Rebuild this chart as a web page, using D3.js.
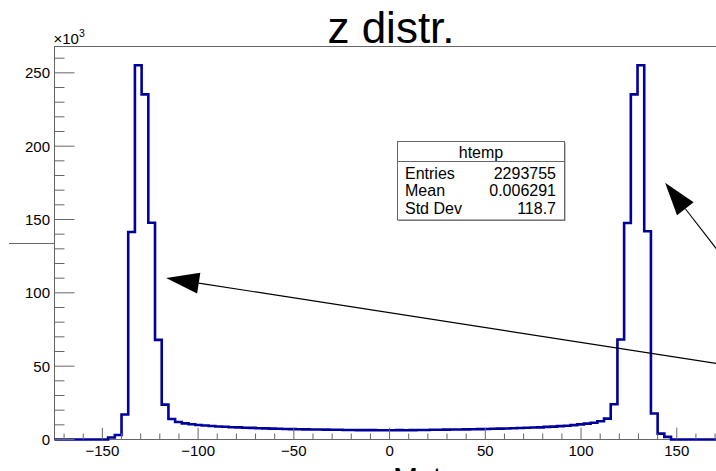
<!DOCTYPE html>
<html><head><meta charset="utf-8">
<script src="https://cdn.jsdelivr.net/npm/d3@7"></script>
<style>html,body{margin:0;padding:0;background:#fff;overflow:hidden;} svg{display:block;}</style>
</head><body>
<script>
// ---------- data ----------
const chartTitle = "z distr.";
const xAxisTitle = "Mvt";
const histName = "htemp";
const xMin = -175, xMax = 175, nBins = 100;
// bin contents in units of 10^3 entries (100 bins, width 3.5)
const counts = [
  0, 0, 0, 0, 0, 0, 0, 0, 1.4, 3.1,
  17.0, 141.5, 255.2, 235.3, 147.8, 67.9, 23.8, 14.0, 11.9, 11.0,
  10.4, 9.9, 9.5, 9.2, 8.9, 8.7, 8.4, 8.3, 8.0, 7.9,
  7.7, 7.6, 7.4, 7.3, 7.2, 7.1, 7.0, 6.9, 6.8, 6.8,
  6.7, 6.6, 6.6, 6.5, 6.5, 6.4, 6.4, 6.4, 6.3, 6.3,
  6.3, 6.4, 6.3, 6.4, 6.5, 6.5, 6.6, 6.6, 6.7, 6.8,
  6.8, 6.9, 7.0, 7.1, 7.2, 7.3, 7.4, 7.5, 7.7, 7.8,
  8.0, 8.2, 8.3, 8.6, 8.8, 9.1, 9.4, 9.8, 10.3, 10.8,
  11.4, 12.4, 14.2, 24.0, 68.2, 147.6, 235.3, 255.2, 142.0, 17.7,
  4.0, 1.8, 0, 0, 0, 0, 0, 0, 0, 0
];
const xTicks = [-150, -100, -50, 0, 50, 100, 150];
const yTicks = [0, 50, 100, 150, 200, 250];
const statsLabels = ["Entries", "Mean", "Std Dev"];
const statsValues = ["2293755", "0.006291", "118.7"];
// annotation arrows (tail -> tip) in data coordinates (z, 10^3 entries)
const arrows = [
  {x1: 175, y1: 51.0, x2: -116.7, y2: 110.1},
  {x1: 175, y1: 122.8, x2: 143.9, y2: 175.1}
];

// ---------- layout ----------
const W = 716, H = 471;
const fL = 54.5, fT = 46.5, fB = 439.5;
const fR = fL + 350 * 1.9147;
const font = "'Liberation Sans', Arial, Helvetica, sans-serif";
const axisCol = "#666";

const svg = d3.select("body").append("svg").attr("width", W).attr("height", H)
  .style("font-family", font);

const yMax = d3.max(counts) * 1.05;
const x = d3.scaleLinear().domain([xMin, xMax]).range([fL, fR]);
const y = d3.scaleLinear().domain([0, yMax]).range([fB, fT]);

// frame
svg.append("rect").attr("x", fL).attr("y", fT).attr("width", fR - fL).attr("height", fB - fT)
  .attr("fill", "none").attr("stroke", axisCol).attr("stroke-width", 1);

// histogram step outline
const bw = (xMax - xMin) / nBins;
const pts = counts.map((c, i) => [xMin + i * bw, c]);
pts.push([xMax, counts[counts.length - 1]]);
const line = d3.line().x(d => x(d[0])).y(d => y(d[1])).curve(d3.curveStepAfter);
svg.append("path").attr("d", line(pts)).attr("fill", "none")
  .attr("stroke", "#00009c").attr("stroke-width", 2.6).attr("stroke-linejoin", "miter");

// x axis
const xMinor = d3.range(-170, 171, 10);
const gx = svg.append("g");
gx.selectAll("line.mn").data(xMinor).join("line")
  .attr("x1", d => x(d)).attr("x2", d => x(d))
  .attr("y1", fB).attr("y2", d => xTicks.includes(d) ? fB - 11.8 : fB - 6)
  .attr("stroke", axisCol).attr("stroke-width", 1);
gx.selectAll("text").data(xTicks).join("text")
  .attr("x", d => x(d)).attr("y", fB + 16.5).attr("text-anchor", "middle")
  .attr("font-size", 15).attr("fill", "#000")
  .text(d => d < 0 ? "\u2212" + Math.abs(d) : String(d));

// y axis
const yMinor = d3.range(0, yMax, 10);
const gy = svg.append("g");
gy.selectAll("line").data(yMinor).join("line")
  .attr("x1", fL).attr("x2", d => (d % 50 === 0) ? fL + 20 : fL + 10)
  .attr("y1", d => y(d)).attr("y2", d => y(d))
  .attr("stroke", axisCol).attr("stroke-width", 1);
gy.selectAll("text").data(yTicks).join("text")
  .attr("x", fL - 4.5).attr("y", d => y(d)).attr("dy", "0.36em").attr("text-anchor", "end")
  .attr("font-size", 15).attr("fill", "#000").text(d => d);

// exponent label
const ex = svg.append("text").attr("x", fL - 1).attr("y", 44.3).attr("font-size", 15);
ex.append("tspan").text("\u00d710");
ex.append("tspan").attr("font-size", 10.5).attr("dy", -7).text("3");

// stray horizontal line left of the axis
svg.append("line").attr("x1", 9).attr("x2", fL).attr("y1", 243.5).attr("y2", 243.5)
  .attr("stroke", axisCol).attr("stroke-width", 1);

// title
svg.append("text").attr("x", 391).attr("y", 43).attr("text-anchor", "middle")
  .attr("font-size", 44).attr("fill", "#000").text(chartTitle);

// x axis title (cut by window)
svg.append("text").attr("x", 393).attr("y", 488).attr("font-size", 30).attr("fill", "#000").text(xAxisTitle);

// stats box
const sb = {x: 397.5, y: 141.5, w: 167, h: 78.5, sep: 161.5};
svg.append("rect").attr("x", sb.x + 1).attr("y", sb.y + 1).attr("width", sb.w).attr("height", sb.h)
  .attr("fill", "#888");
svg.append("rect").attr("x", sb.x).attr("y", sb.y).attr("width", sb.w).attr("height", sb.h)
  .attr("fill", "#fff").attr("stroke", axisCol).attr("stroke-width", 1);
svg.append("line").attr("x1", sb.x).attr("x2", sb.x + sb.w).attr("y1", sb.sep).attr("y2", sb.sep)
  .attr("stroke", axisCol).attr("stroke-width", 1);
svg.append("text").attr("x", sb.x + sb.w / 2).attr("y", 158).attr("text-anchor", "middle")
  .attr("font-size", 16).text(histName);
statsLabels.forEach((lab, i) => {
  const yy = 178.5 + i * 17.5;
  svg.append("text").attr("x", 405).attr("y", yy).attr("font-size", 16).text(lab);
  svg.append("text").attr("x", 556).attr("y", yy).attr("text-anchor", "end").attr("font-size", 16).text(statsValues[i]);
});

// arrows
arrows.forEach(a => {
  const tx = x(a.x1), ty = y(a.y1), hx = x(a.x2), hy = y(a.y2);
  const dx = tx - hx, dy = ty - hy, len = Math.hypot(dx, dy);
  const ux = dx / len, uy = dy / len;
  const L = 33, hw = 10.5;
  const bx = hx + ux * L, by = hy + uy * L;
  svg.append("line").attr("x1", tx).attr("y1", ty).attr("x2", bx).attr("y2", by)
    .attr("stroke", "#000").attr("stroke-width", 1.1);
  svg.append("path")
    .attr("d", `M${hx},${hy}L${bx - uy * hw},${by + ux * hw}L${bx + uy * hw},${by - ux * hw}Z`)
    .attr("fill", "#000");
});
</script>
</body></html>
